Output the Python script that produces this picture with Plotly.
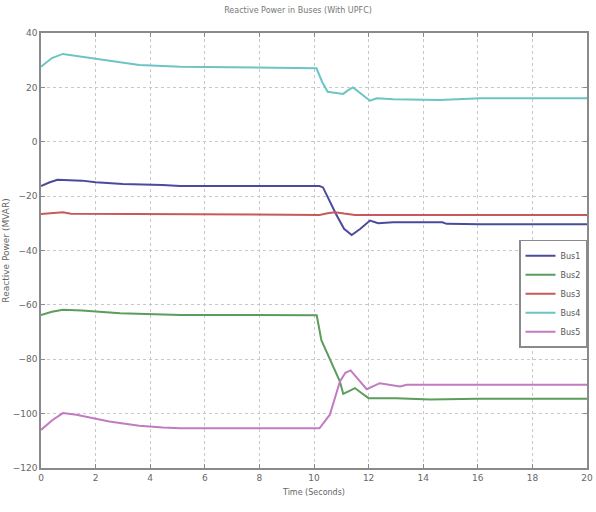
import plotly.graph_objects as go

title_text = "Reactive Power in Buses (With UPFC)"
x_title = "Time (Seconds)"
y_title = "Reactive Power (MVAR)"

x_ticks = [0, 2, 4, 6, 8, 10, 12, 14, 16, 18, 20]
y_ticks = [-120, -100, -80, -60, -40, -20, 0, 20, 40]

bus1_t = [0, 0.3, 0.6, 1.5, 2.0, 3.0, 4.45, 5.1, 10.2, 10.33, 10.8, 11.1, 11.38, 11.7, 12.05, 12.35, 12.9, 14.7, 14.86, 16.1, 20]
bus1_v = [-16.3, -15.0, -14.0, -14.3, -14.9, -15.5, -15.9, -16.3, -16.3, -16.8, -26.5, -32.0, -34.3, -32.0, -29.0, -30.0, -29.6, -29.6, -30.2, -30.3, -30.3]

bus2_t = [0, 0.4, 0.8, 1.5, 2.9, 4.0, 5.1, 10.1, 10.27, 10.95, 11.07, 11.3, 11.5, 11.75, 12.0, 13.0, 14.25, 16, 20]
bus2_v = [-63.7, -62.5, -61.8, -62.1, -63.1, -63.4, -63.7, -63.8, -73.0, -88.2, -92.7, -91.6, -90.6, -92.5, -94.3, -94.3, -94.8, -94.5, -94.5]

bus3_t = [0, 0.5, 0.8, 1.1, 5, 10.2, 10.5, 10.77, 11.1, 11.5, 20]
bus3_v = [-26.6, -26.3, -25.9, -26.5, -26.7, -26.9, -26.3, -25.9, -26.4, -26.9, -26.9]

bus4_t = [0, 0.4, 0.8, 2.0, 3.6, 5.1, 10.09, 10.3, 10.5, 11.07, 11.25, 11.43, 11.75, 12.05, 12.3, 12.9, 14.6, 16.1, 20]
bus4_v = [27.6, 30.8, 32.3, 30.5, 28.2, 27.6, 27.0, 22.0, 18.4, 17.6, 19.0, 20.0, 17.5, 15.1, 16.0, 15.6, 15.4, 16.0, 16.0]

bus5_t = [0, 0.4, 0.8, 1.3, 2.5, 3.6, 4.46, 5.1, 10.2, 10.58, 10.95, 11.15, 11.34, 11.6, 11.93, 12.41, 13.15, 13.4, 20]
bus5_v = [-106.0, -102.5, -99.8, -100.4, -102.9, -104.5, -105.1, -105.4, -105.4, -100.4, -88.2, -85.0, -84.1, -87.0, -91.0, -88.8, -90.0, -89.4, -89.4]

series = [
    ("Bus1", bus1_t, bus1_v, "#4b4b9c"),
    ("Bus2", bus2_t, bus2_v, "#5c9c5c"),
    ("Bus3", bus3_t, bus3_v, "#c65a5a"),
    ("Bus4", bus4_t, bus4_v, "#6cc4c4"),
    ("Bus5", bus5_t, bus5_v, "#c27ac2"),
]

fig = go.Figure()
for name, t, v, c in series:
    fig.add_trace(go.Scatter(x=t, y=v, name=name, mode="lines",
                             line=dict(color=c, width=2, shape="linear")))

axis_common = dict(
    showline=True, linecolor="#8a8a8a", linewidth=1.5, mirror="allticks",
    ticks="inside", ticklen=4, tickcolor="#8a8a8a",
    showgrid=True, gridcolor="#c8c8c8", griddash="dot", gridwidth=1,
    zeroline=False, tickfont=dict(family="DejaVu Sans", size=9, color="#666666"),
)

fig.update_layout(
    width=596, height=512,
    paper_bgcolor="white", plot_bgcolor="white",
    margin=dict(l=41, r=9, t=33, b=44, autoexpand=False),
    title=dict(text=title_text, x=0.5, xanchor="center", y=0.985, yanchor="top",
               font=dict(family="DejaVu Sans", size=8, color="#777777")),
    xaxis=dict(range=[0, 20], tickvals=x_ticks,
               title=dict(text=x_title, standoff=8, font=dict(family="DejaVu Sans", size=8, color="#666666")),
               **axis_common),
    yaxis=dict(range=[-120, 40], tickvals=y_ticks,
               title=dict(text=y_title, standoff=2, font=dict(family="DejaVu Sans", size=9, color="#666666")),
               **axis_common),
    legend=dict(x=1.0, y=0.525, xanchor="right", yanchor="top",
                bgcolor="white", bordercolor="#8a8a8a", borderwidth=1.5,
                font=dict(family="DejaVu Sans", size=8, color="#555555"),
                itemwidth=30, tracegroupgap=2),
    showlegend=True,
)

fig.write_html("out.html")
